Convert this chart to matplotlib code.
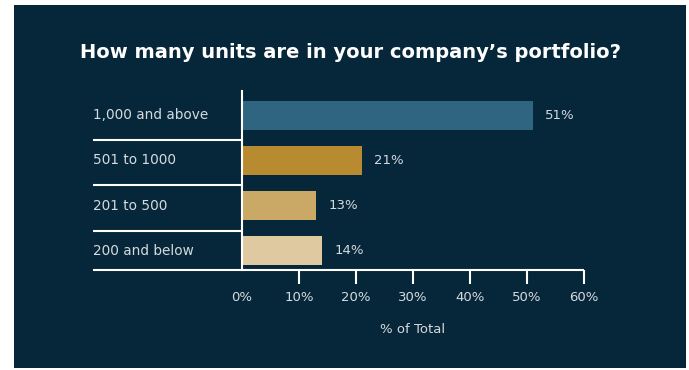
import matplotlib.pyplot as plt
from matplotlib.patches import Rectangle

categories = ["1,000 and above", "501 to 1000", "201 to 500", "200 and below"]
shares = [51, 21, 13, 14]
bar_colors = ["#306582", "#b88b30", "#caa865", "#dfc9a0"]
xticks = [0, 10, 20, 30, 40, 50, 60]

bg = "#06273a"
txt = "#d5dade"

plt.rcParams["font.family"] = "DejaVu Sans"

fig = plt.figure(figsize=(6.89, 3.70), dpi=100, facecolor="white")
# dark panel inside a thin white margin
fig.patches.append(Rectangle((14 / 689, 2 / 370), 672 / 689, 363 / 370,
                             transform=fig.transFigure, facecolor=bg,
                             edgecolor="none", zorder=-10))

ax = fig.add_axes([242 / 689, 1 - 270 / 370, 342 / 689, 179 / 370])
ax.set_facecolor("none")

y = list(range(len(categories)))
ax.barh(y, shares, height=0.64, color=bar_colors, zorder=2)
for yi, v in zip(y, shares):
    ax.annotate(f"{v}%", (v, yi), xytext=(9, 0), textcoords="offset points",
                va="center", ha="left", color=txt, fontsize=9.5)

ax.set_ylim(3.42, -0.53)
ax.set_xlim(0, 60)
ax.set_yticks([])
ax.set_xticks(xticks)
ax.set_xticklabels([f"{t}%" for t in xticks], color=txt, fontsize=9.5)
ax.tick_params(axis="x", direction="out", length=10, width=1.5,
               color="white", pad=5)
ax.xaxis.get_major_ticks()[0].tick1line.set_visible(False)

for s in ["top", "right", "bottom"]:
    ax.spines[s].set_visible(False)
ax.spines["left"].set_color("white")
ax.spines["left"].set_linewidth(1.5)

# row separators and category labels to the left of the axis
left = -149 / 342
tr = ax.get_yaxis_transform()
for i, name in enumerate(categories):
    ax.text(left, i, name, transform=tr, ha="left", va="center",
            color=txt, fontsize=9.8)
    if i < len(categories) - 1:
        ax.plot([left, 0], [i + 0.55, i + 0.55], transform=tr, color="white",
                lw=1.5, clip_on=False, solid_capstyle="butt")
ax.plot([left, 1], [3.42, 3.42], transform=tr, color="white", lw=1.5,
        clip_on=False, solid_capstyle="butt")

ax.set_xlabel("% of Total", color=txt, fontsize=9.5, labelpad=14)

fig.text(350 / 689, 1 - 52 / 370, "How many units are in your company\u2019s portfolio?",
         ha="center", va="center", color="white", fontsize=14,
         fontweight="bold")

fig.savefig("out.png", dpi=100, facecolor=fig.get_facecolor())
